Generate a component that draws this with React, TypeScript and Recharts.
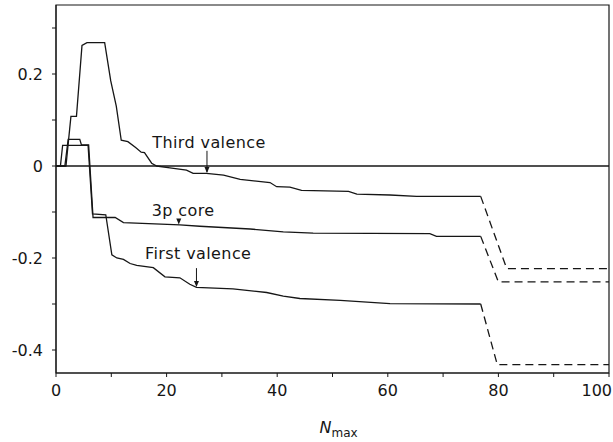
import React from 'react';
import { LineChart, Line, XAxis, YAxis, ReferenceLine, ReferenceArea, ReferenceDot } from 'recharts';

// N_max positions and values, solid part of each curve
const nmaxThird = [0, 1.8, 2.7, 3.7, 4.7, 5.6, 8.8, 9.9, 10.9, 11.8, 13, 14.4, 15.4, 16, 17.3, 18.2, 20.6, 23.6, 24.8, 27.2, 30.3, 33.3, 38.7, 39.9, 42.3, 44.4, 52.9, 54.4, 60.4, 65.2, 76.8];
const thirdValence = [0, 0, 0.108, 0.108, 0.262, 0.268, 0.268, 0.185, 0.13, 0.056, 0.053, 0.04, 0.03, 0.029, 0.006, 0, -0.004, -0.009, -0.016, -0.016, -0.02, -0.029, -0.036, -0.045, -0.046, -0.053, -0.055, -0.061, -0.063, -0.066, -0.066];

const nmaxCore = [0, 1.6, 2.2, 4.3, 4.6, 5.9, 6.7, 10.7, 12.2, 22.4, 26, 35.1, 41.1, 46.5, 67.6, 68.8, 76.8];
const core3p = [0, 0, 0.058, 0.058, 0.046, 0.046, -0.112, -0.112, -0.123, -0.128, -0.131, -0.137, -0.143, -0.146, -0.147, -0.153, -0.153];

const nmaxFirst = [0, 0.8, 1.2, 5.8, 6.6, 9.0, 10.1, 11, 12.2, 13.4, 14.6, 17.6, 19.7, 22.4, 24.2, 25.4, 32, 38.1, 41.1, 44.1, 51.4, 60.4, 76.8];
const firstValence = [0, 0, 0.045, 0.045, -0.104, -0.106, -0.193, -0.2, -0.203, -0.212, -0.216, -0.221, -0.241, -0.243, -0.257, -0.264, -0.267, -0.275, -0.283, -0.288, -0.292, -0.299, -0.3];

// dashed continuation
const nmaxThirdTail = [76.8, 81.5, 100];
const thirdValenceTail = [-0.066, -0.223, -0.223];
const nmaxCoreTail = [76.8, 80, 100];
const core3pTail = [-0.153, -0.252, -0.252];
const nmaxFirstTail = [76.8, 79.8, 100];
const firstValenceTail = [-0.3, -0.432, -0.432];

const xTicks = [0, 10, 20, 30, 40, 50, 60, 70, 80, 90, 100];
const yTicks = [-0.4, -0.3, -0.2, -0.1, 0, 0.1, 0.2, 0.3];

const zip = (xs: number[], ys: number[]) => xs.map((x, i) => ({ x, y: ys[i] }));

const INK = '#161616';
const FONT = '"DejaVu Sans", sans-serif';

const textAt = (label: string) => (p: any) => (
  <text x={p.cx} y={p.cy} fill={INK} fontSize={16} fontFamily={FONT} letterSpacing={0.4}>
    {label}
  </text>
);

const arrowHead = (p: any) => (
  <path d={`M${p.cx - 2.5},${p.cy - 6} L${p.cx + 2.5},${p.cy - 6} L${p.cx},${p.cy} Z`} fill={INK} />
);

// only every second tick gets a label; the last one is kept inside the page
const XTick = (props: any) => {
  const { x, y, payload } = props;
  const v = payload.value;
  if (v % 20 !== 0) return <g />;
  const last = v === 100;
  return (
    <text
      x={last ? 612 : x}
      y={y}
      dy="0.71em"
      textAnchor={last ? 'end' : 'middle'}
      fill={INK}
      fontSize={16}
      fontFamily={FONT}
    >
      {v}
    </text>
  );
};

const NmaxLabel = (props: any) => {
  const vb = props.viewBox;
  return (
    <text x={vb.x + vb.width / 2 - 13} y={vb.y + 60} fill={INK} fontFamily={FONT} fontSize={16}>
      <tspan fontStyle="italic">N</tspan>
      <tspan fontSize={12} dy={4}>max</tspan>
    </text>
  );
};

const App: React.FC = () => {
  const lineProps = {
    dataKey: 'y',
    stroke: INK,
    strokeWidth: 1.3,
    dot: false,
    type: 'linear' as const,
    isAnimationActive: false,
  };

  return (
    <div style={{ position: 'absolute', left: 0, top: 0, background: '#fff' }}>
      <LineChart width={613} height={442} margin={{ top: 5, right: 4, left: 0, bottom: 0 }}>
        <XAxis
          dataKey="x"
          type="number"
          domain={[0, 100]}
          ticks={xTicks}
          height={69}
          tickSize={4}
          tickMargin={8}
          stroke={INK}
          tick={<XTick />}
          label={{ content: NmaxLabel }}
          allowDataOverflow
        />
        <YAxis
          type="number"
          domain={[-0.45, 0.35]}
          ticks={yTicks}
          tickFormatter={(v: number) => {
            const r = Math.round(v * 10);
            return r % 2 === 0 ? (r === 0 ? '0' : v.toFixed(1)) : '';
          }}
          width={56}
          tickSize={4}
          tickMargin={9}
          stroke={INK}
          tick={{ fill: INK, fontSize: 16, fontFamily: FONT }}
          allowDataOverflow
        />
        <ReferenceArea x1={0} x2={100} y1={-0.45} y2={0.35} fill="none" stroke={INK} strokeWidth={1.2} />
        <ReferenceLine y={0} stroke={INK} strokeWidth={1.5} />

        <Line {...lineProps} data={zip(nmaxThird, thirdValence)} name="Third valence" />
        <Line {...lineProps} data={zip(nmaxCore, core3p)} name="3p core" />
        <Line {...lineProps} data={zip(nmaxFirst, firstValence)} name="First valence" />
        <Line {...lineProps} data={zip(nmaxThirdTail, thirdValenceTail)} strokeDasharray="8 5" name="Third valence (ext)" />
        <Line {...lineProps} data={zip(nmaxCoreTail, core3pTail)} strokeDasharray="8 5" name="3p core (ext)" />
        <Line {...lineProps} data={zip(nmaxFirstTail, firstValenceTail)} strokeDasharray="8 5" name="First valence (ext)" />

        <ReferenceDot x={17.4} y={0.039} r={0} shape={textAt('Third valence')} />
        <ReferenceLine segment={[{ x: 27.3, y: 0.033 }, { x: 27.3, y: -0.013 }]} stroke={INK} strokeWidth={1} />
        <ReferenceDot x={27.3} y={-0.015} r={0} shape={arrowHead} />

        <ReferenceDot x={17.3} y={-0.109} r={0} shape={textAt('3p core')} />
        <ReferenceDot x={22.2} y={-0.127} r={0} shape={arrowHead} />

        <ReferenceDot x={16.1} y={-0.202} r={0} shape={textAt('First valence')} />
        <ReferenceLine segment={[{ x: 25.4, y: -0.222 }, { x: 25.4, y: -0.26 }]} stroke={INK} strokeWidth={1} />
        <ReferenceDot x={25.4} y={-0.263} r={0} shape={arrowHead} />
      </LineChart>
    </div>
  );
};

export default App;
